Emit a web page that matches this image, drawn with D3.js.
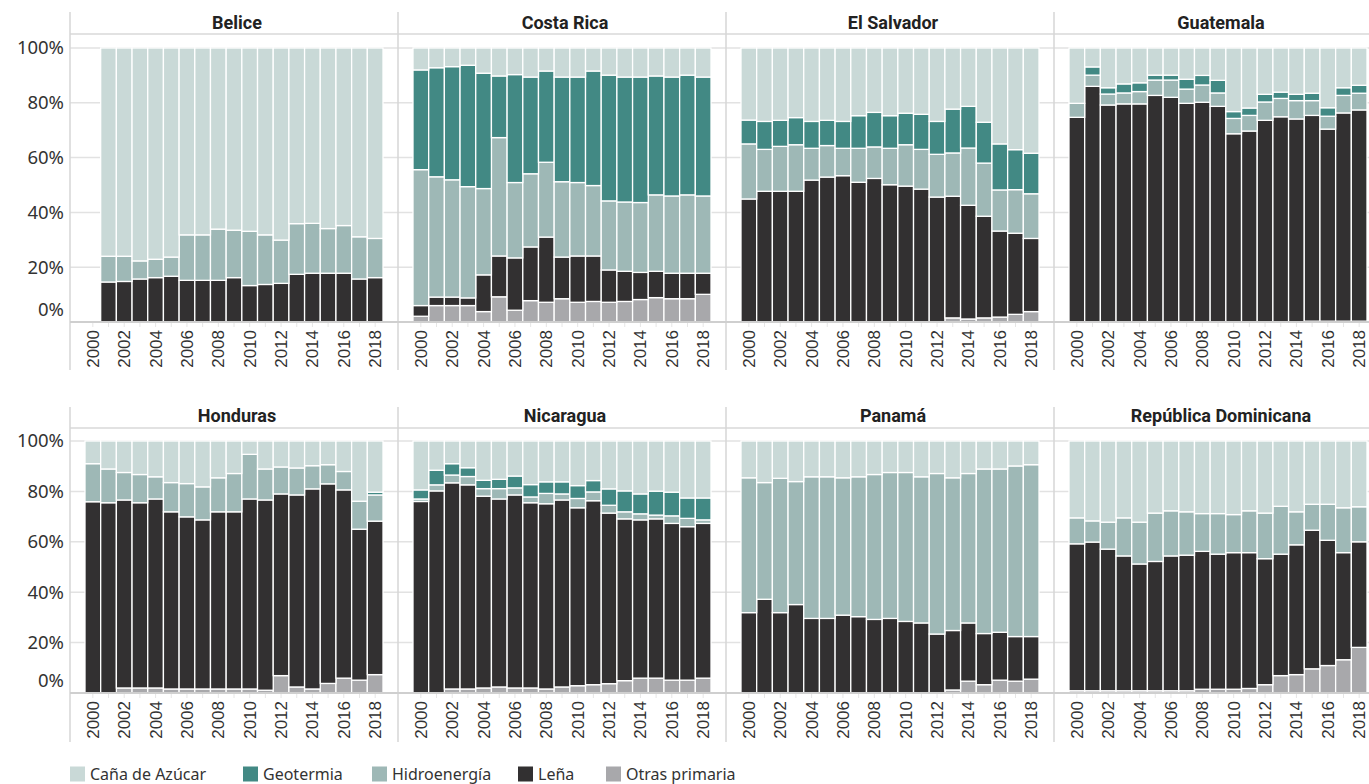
<!DOCTYPE html>
<html>
<head>
<meta charset="utf-8">
<script src="https://cdn.jsdelivr.net/npm/d3@7"></script>
<style>
  body { margin: 0; background: #fff; }
  svg { display: block; }
</style>
</head>
<body>
<div id="main"></div>
<script>
// categories
var years = [2000, 2001, 2002, 2003, 2004, 2005, 2006, 2007, 2008, 2009,
             2010, 2011, 2012, 2013, 2014, 2015, 2016, 2017, 2018];
var yearLabels = [2000, 2002, 2004, 2006, 2008, 2010, 2012, 2014, 2016, 2018];
var countries = ["Belice", "Costa Rica", "El Salvador", "Guatemala",
                 "Honduras", "Nicaragua", "Panamá", "República Dominicana"];
// stack order, bottom to top
var sources = ["Otras primaria", "Leña", "Hidroenergía", "Geotermia", "Caña de Azúcar"];
var legendItems = ["Caña de Azúcar", "Geotermia", "Hidroenergía", "Leña", "Otras primaria"];
var yTicks = [0, 20, 40, 60, 80, 100];

// shares (%) per source
var otras = {
  "Belice":               [0,0,0,0,0,0,0,0,0,0,0,0,0,0,0,0,0,0,0],
  "Costa Rica":           [2.1,6.0,6.0,6.0,3.8,9.2,4.3,7.8,7.2,8.5,7.2,7.5,7.2,7.5,8.2,8.9,8.5,8.5,10.1],
  "El Salvador":          [0,0,0,0,0,0,0,0,0,0,0,0,0,1.5,1.1,1.5,1.8,2.8,3.8],
  "Guatemala":            [0,0,0,0,0,0,0,0,0,0,0,0,0,0,0,0.3,0.3,0.3,0.3],
  "Honduras":             [0,0,2.0,2.0,2.0,1.6,1.6,1.6,1.6,1.6,1.6,1.1,6.9,2.4,1.6,3.8,5.9,5.1,7.3],
  "Nicaragua":            [0,0,1.6,1.6,2.0,2.4,2.0,2.0,1.6,2.4,2.9,3.3,3.7,4.9,5.9,5.9,5.1,5.1,5.9],
  "Panamá":               [0,0,0,0,0,0,0,0,0,0,0,0,0,1.2,4.7,3.3,5.1,4.7,5.5],
  "República Dominicana": [0.9,0.9,0.9,0.9,0.9,0.9,0.9,0.9,1.5,1.5,1.5,1.8,3.3,6.9,7.3,9.6,10.9,13.2,18.1]
};
var lena = {
  "Belice":               [0,14.6,14.8,15.7,16.2,16.7,15.2,15.2,15.2,16.2,13.3,13.7,14.1,17.4,17.8,17.8,17.8,15.7,16.2],
  "Costa Rica":           [3.9,3.1,3.1,2.8,13.4,14.9,19.1,19.6,23.8,15.2,16.9,16.6,11.8,11.0,9.9,9.6,9.3,9.3,7.7],
  "El Salvador":          [44.9,47.7,47.7,47.7,51.8,52.9,53.4,51.0,52.4,50.1,49.6,48.5,45.6,44.4,41.5,37.1,31.4,29.6,26.7],
  "Guatemala":            [74.7,86.0,79.2,79.6,79.6,82.7,82.0,79.8,80.2,78.7,68.7,69.7,73.6,74.9,74.1,75.1,70.1,76.0,77.1],
  "Honduras":             [75.9,75.5,74.6,73.5,75.0,70.3,68.3,67.1,70.3,70.3,75.4,75.5,72.1,76.2,79.4,79.2,74.7,59.9,60.9],
  "Nicaragua":            [76.0,80.2,81.8,81.0,76.1,74.6,76.6,73.5,73.5,74.2,70.6,73.0,67.7,64.2,62.8,63.2,62.2,60.9,61.4],
  "Panamá":               [31.9,37.2,31.9,35.1,29.6,29.6,30.9,30.3,29.2,29.6,28.4,27.8,23.4,23.6,23.1,20.3,19.0,17.7,16.9],
  "República Dominicana": [58.3,59.0,56.2,53.5,50.3,51.3,53.5,53.8,54.7,53.6,54.2,53.9,50.0,48.2,51.5,55.0,49.7,42.5,41.9]
};
var hidro = {
  "Belice":               [0,9.4,9.2,6.6,6.7,7.0,16.6,16.6,18.7,17.3,19.8,18.1,15.8,18.5,18.2,16.3,17.4,15.4,14.3],
  "Costa Rica":           [49.6,43.9,42.8,40.6,31.5,43.2,27.5,26.7,27.3,27.5,26.8,25.7,25.2,25.3,25.5,27.9,28.2,28.6,28.2],
  "El Salvador":          [20.1,15.3,16.4,17.0,11.6,11.5,10.0,12.4,11.5,13.3,15.1,14.5,15.6,15.8,20.9,19.4,15.0,15.9,16.3],
  "Guatemala":            [5.1,4.1,4.0,4.0,4.5,5.6,6.3,5.2,6.3,4.9,5.6,5.7,6.7,6.7,6.7,5.4,4.7,6.4,6.1],
  "Honduras":             [15.1,13.4,10.9,11.2,8.8,11.6,13.2,13.1,13.5,15.2,17.7,12.3,10.7,10.7,9.2,7.6,7.3,11.1,10.4],
  "Nicaragua":            [1.0,2.4,3.1,3.3,3.0,4.1,2.8,2.3,4.1,2.4,3.7,3.5,3.1,2.8,2.4,1.5,3.0,3.3,1.4],
  "Panamá":               [53.5,46.3,53.3,48.8,56.2,56.2,54.5,55.5,57.5,57.9,59.1,58.0,63.7,60.6,59.3,65.3,64.8,67.7,68.2],
  "República Dominicana": [10.3,8.4,10.7,15.1,16.6,19.2,17.9,17.2,15.0,16.1,15.1,16.6,18.1,19.0,13.1,10.3,14.3,17.8,13.9]
};
var geo = {
  "Belice":               [0,0,0,0,0,0,0,0,0,0,0,0,0,0,0,0,0,0,0],
  "Costa Rica":           [36.4,39.8,41.3,44.3,42.1,22.5,39.4,35.3,33.3,38.2,38.5,41.8,45.9,45.6,45.8,43.4,43.4,43.7,43.4],
  "El Salvador":          [8.7,10.2,9.5,9.9,9.8,9.2,9.8,11.9,12.6,11.9,11.5,12.8,12.0,16.0,15.2,14.9,16.8,14.6,14.8],
  "Guatemala":            [0,3.0,2.3,3.3,3.2,1.8,1.8,3.6,3.5,4.6,2.5,2.7,2.8,2.3,2.3,2.7,3.1,2.8,2.9],
  "Honduras":             [0,0,0,0,0,0,0,0,0,0,0,0,0,0,0,0,0,0,1.1],
  "Nicaragua":            [3.6,5.8,4.5,3.5,3.3,3.7,4.7,4.9,4.6,4.8,5.1,4.5,6.5,8.3,7.9,9.5,9.4,8.1,8.7],
  "Panamá":               [0,0,0,0,0,0,0,0,0,0,0,0,0,0,0,0,0,0,0],
  "República Dominicana": [0,0,0,0,0,0,0,0,0,0,0,0,0,0,0,0,0,0,0]
};
var cana = {
  "Belice":               [0,76.0,76.0,77.7,77.1,76.3,68.2,68.2,66.1,66.5,66.9,68.2,70.1,64.1,64.0,65.9,64.8,68.9,69.5],
  "Costa Rica":           [8.0,7.2,6.8,6.3,9.2,10.2,9.7,10.6,8.4,10.6,10.6,8.4,9.9,10.6,10.6,10.2,10.6,9.9,10.6],
  "El Salvador":          [26.3,26.8,26.4,25.4,26.8,26.4,26.8,24.7,23.5,24.7,23.8,24.2,26.8,22.3,21.3,27.1,35.0,37.1,38.4],
  "Guatemala":            [20.2,6.9,14.5,13.1,12.7,9.9,9.9,11.4,10.0,11.8,23.2,21.9,16.9,16.1,16.9,16.5,21.8,14.5,13.6],
  "Honduras":             [9.0,11.1,12.5,13.3,14.2,16.5,16.9,18.2,14.6,12.9,5.3,11.1,10.3,10.7,9.8,9.4,12.1,23.9,20.3],
  "Nicaragua":            [19.4,11.6,9.0,10.6,15.6,15.2,13.9,17.3,16.2,16.2,17.7,15.7,19.0,19.8,21.0,19.9,20.3,22.6,22.6],
  "Panamá":               [14.6,16.5,14.8,16.1,14.2,14.2,14.6,14.2,13.3,12.5,12.5,14.2,12.9,14.6,12.9,11.1,11.1,9.9,9.4],
  "República Dominicana": [30.5,31.7,32.2,30.5,32.2,28.6,27.7,28.1,28.8,28.8,29.2,27.7,28.6,25.9,28.1,25.1,25.1,26.5,26.1]
};

var sourceData = {
  "Otras primaria": otras,
  "Leña": lena,
  "Hidroenergía": hidro,
  "Geotermia": geo,
  "Caña de Azúcar": cana
};

var color = d3.scaleOrdinal()
  .domain(["Caña de Azúcar", "Geotermia", "Hidroenergía", "Leña", "Otras primaria"])
  .range(["#c9d9d7", "#428984", "#9eb8b6", "#323031", "#a8a8ab"]);

var width = 1369, height = 784;
var panelX0 = 70, panelW = 328;
var rows = [
  { titleY: 22,  headerY: 34,  yTop: 48,  yBottom: 322, divTop: 12,  divBottom: 370 },
  { titleY: 415, headerY: 428, yTop: 441, yBottom: 693, divTop: 407, divBottom: 742 }
];

var svg = d3.select("#main").append("svg")
  .attr("width", width)
  .attr("height", height);

var stack = d3.stack().keys(sources).offset(d3.stackOffsetExpand);

rows.forEach(function(row, r) {
  var y = d3.scaleLinear().domain([0, 100]).range([row.yBottom, row.yTop]);

  // header line
  svg.append("line")
    .attr("x1", panelX0).attr("x2", width)
    .attr("y1", row.headerY).attr("y2", row.headerY)
    .attr("stroke", "#d9d9d9").attr("stroke-width", 1.5);

  // y axis labels (left only)
  var yAxis = svg.append("g")
    .attr("transform", "translate(" + (panelX0 - 6) + ",0)")
    .call(d3.axisLeft(y).tickValues(yTicks).tickSize(0).tickFormat(function(d) { return d + "%"; }));
  yAxis.select(".domain").remove();
  yAxis.selectAll("text")
    .attr("x", 0)
    .attr("dy", function(d) { return d === 0 ? "-0.35em" : "0.32em"; })
    .style("font-family", "'Noto Sans', sans-serif")
    .style("font-size", "18.5px")
    .style("fill", "#333");

  for (var c = 0; c < 4; c++) {
    var country = countries[r * 4 + c];
    var x0 = panelX0 + c * panelW;

    var x = d3.scaleBand()
      .domain(years)
      .range([x0 + 15, x0 + 313])
      .padding(0);

    // grid
    svg.append("g").selectAll("line")
      .data(yTicks.filter(function(d) { return d > 0; }))
      .join("line")
      .attr("x1", x0).attr("x2", x0 + panelW)
      .attr("y1", function(d) { return y(d); })
      .attr("y2", function(d) { return y(d); })
      .attr("stroke", "#e2e2e2")
      .attr("stroke-width", 1.5);

    // panel divider
    svg.append("line")
      .attr("x1", x0).attr("x2", x0)
      .attr("y1", row.divTop).attr("y2", row.divBottom)
      .attr("stroke", "#d6d6d6").attr("stroke-width", 1.5);

    // title
    svg.append("text")
      .attr("x", x0 + panelW / 2 + 3)
      .attr("y", row.titleY)
      .attr("text-anchor", "middle")
      .attr("dominant-baseline", "central")
      .style("font-family", "Roboto, sans-serif")
      .style("font-weight", "bold")
      .style("font-size", "18px")
      .style("fill", "#222")
      .text(country);

    // build table for this country
    var table = years.map(function(yr, i) {
      var rowObj = { year: yr };
      sources.forEach(function(s) { rowObj[s] = sourceData[s][country][i]; });
      return rowObj;
    });
    var stacked = stack(table);

    svg.append("g").selectAll("g")
      .data(stacked)
      .join("g")
      .attr("fill", function(d) { return color(d.key); })
      .selectAll("rect")
      .data(function(d) { return d.filter(function(p) { return p[1] - p[0] > 0; }); })
      .join("rect")
      .attr("x", function(d) { return x(d.data.year); })
      .attr("width", x.bandwidth())
      .attr("y", function(d) { return y(d[1] * 100); })
      .attr("height", function(d) { return y(d[0] * 100) - y(d[1] * 100); })
      .attr("stroke", "#fff")
      .attr("stroke-width", 1.3);

    // faint year ticks
    svg.append("g").selectAll("line")
      .data(years)
      .join("line")
      .attr("x1", function(d) { return x(d) + x.bandwidth() / 2; })
      .attr("x2", function(d) { return x(d) + x.bandwidth() / 2; })
      .attr("y1", row.yBottom).attr("y2", row.yBottom + 5)
      .attr("stroke", "#e6e6e6");

    // x axis labels
    var xAxis = svg.append("g")
      .attr("transform", "translate(0," + row.yBottom + ")")
      .call(d3.axisBottom(x).tickValues(yearLabels).tickSize(0).tickFormat(d3.format("d")));
    xAxis.select(".domain").remove();
    xAxis.selectAll("text")
      .attr("transform", "rotate(-90)")
      .attr("x", -8)
      .attr("y", 0)
      .attr("dy", "0.35em")
      .attr("text-anchor", "end")
      .style("font-family", "'Liberation Sans', Arial, sans-serif")
      .style("font-size", "17px")
      .style("fill", "#333");
  }

  // zero line
  svg.append("line")
    .attr("x1", panelX0).attr("x2", width)
    .attr("y1", row.yBottom).attr("y2", row.yBottom)
    .attr("stroke", "#cfcfcf").attr("stroke-width", 2);
});

// legend
var legendX = [70, 243, 372, 518, 606];
var legend = svg.append("g")
  .selectAll("g")
  .data(legendItems)
  .join("g")
  .attr("transform", function(d, i) { return "translate(" + legendX[i] + ",774)"; });

legend.append("rect")
  .attr("x", 0).attr("y", -7.5)
  .attr("width", 15).attr("height", 15)
  .attr("fill", function(d) { return color(d); });

legend.append("text")
  .attr("x", 20)
  .attr("y", 0)
  .attr("dy", "0.35em")
  .style("font-family", "'Noto Sans', sans-serif")
  .style("font-size", "16px")
  .style("fill", "#333")
  .text(function(d) { return d; });
</script>
</body>
</html>
